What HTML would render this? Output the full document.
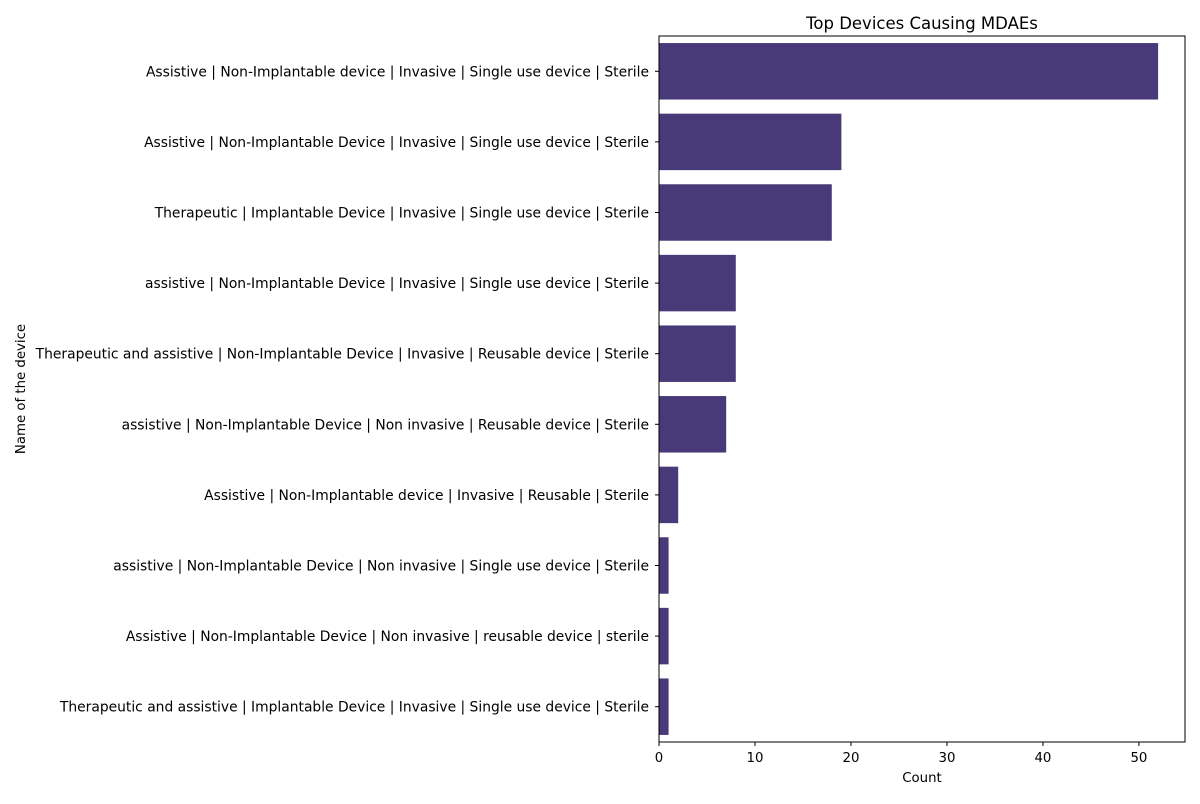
<!DOCTYPE html>
<html><head><meta charset="utf-8">
<style>
body{margin:0;background:#fff;font-family:"DejaVu Sans",sans-serif;}
svg text{font-family:"DejaVu Sans",sans-serif;fill:#000;}
</style></head>
<body>
<svg width="1200" height="800" viewBox="0 0 1200 800">
<text x="922" y="29" font-size="16.5" text-anchor="middle">Top Devices Causing MDAEs</text>
<g id="plot"></g>
<text x="922" y="782" font-size="13.3" text-anchor="middle">Count</text>
<text transform="translate(25,389) rotate(-90)" font-size="13.3" text-anchor="middle">Name of the device</text>
</svg>
<script>
const categories=["Assistive | Non-Implantable device | Invasive | Single use device | Sterile","Assistive | Non-Implantable Device | Invasive | Single use device | Sterile","Therapeutic | Implantable Device | Invasive | Single use device | Sterile","assistive | Non-Implantable Device | Invasive | Single use device | Sterile","Therapeutic and assistive | Non-Implantable Device | Invasive | Reusable device | Sterile","assistive | Non-Implantable Device | Non invasive | Reusable device | Sterile","Assistive | Non-Implantable device | Invasive | Reusable | Sterile","assistive | Non-Implantable Device | Non invasive | Single use device | Sterile","Assistive | Non-Implantable Device | Non invasive | reusable device | sterile","Therapeutic and assistive | Implantable Device | Invasive | Single use device | Sterile"];
const counts=[52,19,18,8,8,7,2,1,1,1];
const xTicks=[0,10,20,30,40,50];
const L=659,R=1185,T=36,B=742,xMax=54.8;
const ns="http://www.w3.org/2000/svg";
const g=document.getElementById('plot');
const x=v=>L+v/xMax*(R-L);
const band=(B-T)/categories.length;
const y=i=>T+band*(i+0.5);
function mk(t,a){const e=document.createElementNS(ns,t);for(const k in a)e.setAttribute(k,a[k]);g.appendChild(e);return e;}
counts.forEach((v,i)=>{
 const r=mk('rect',{x:L,y:y(i)-band*0.4,width:x(v)-L,height:band*0.8,fill:'#483a78'});
 
 
 const tk=mk('line',{x1:L-4,x2:L,y1:y(i),y2:y(i),stroke:'#000'});
 
 
 const t=mk('text',{x:L-10,y:y(i)+5,'font-size':13.85,'text-anchor':'end'});
 t.textContent=categories[i];
 
 
});
xTicks.forEach(v=>{
 const tk=mk('line',{x1:x(v),x2:x(v),y1:B,y2:B+4,stroke:'#000'});
 
 
 const t=mk('text',{x:x(v),y:B+20,'font-size':13.3,'text-anchor':'middle'});
 t.textContent=v;
 
 
});
const fr=mk('rect',{x:L,y:T,width:R-L,height:B-T,fill:'none',stroke:'#000','stroke-width':1});


</script>
</body></html>
